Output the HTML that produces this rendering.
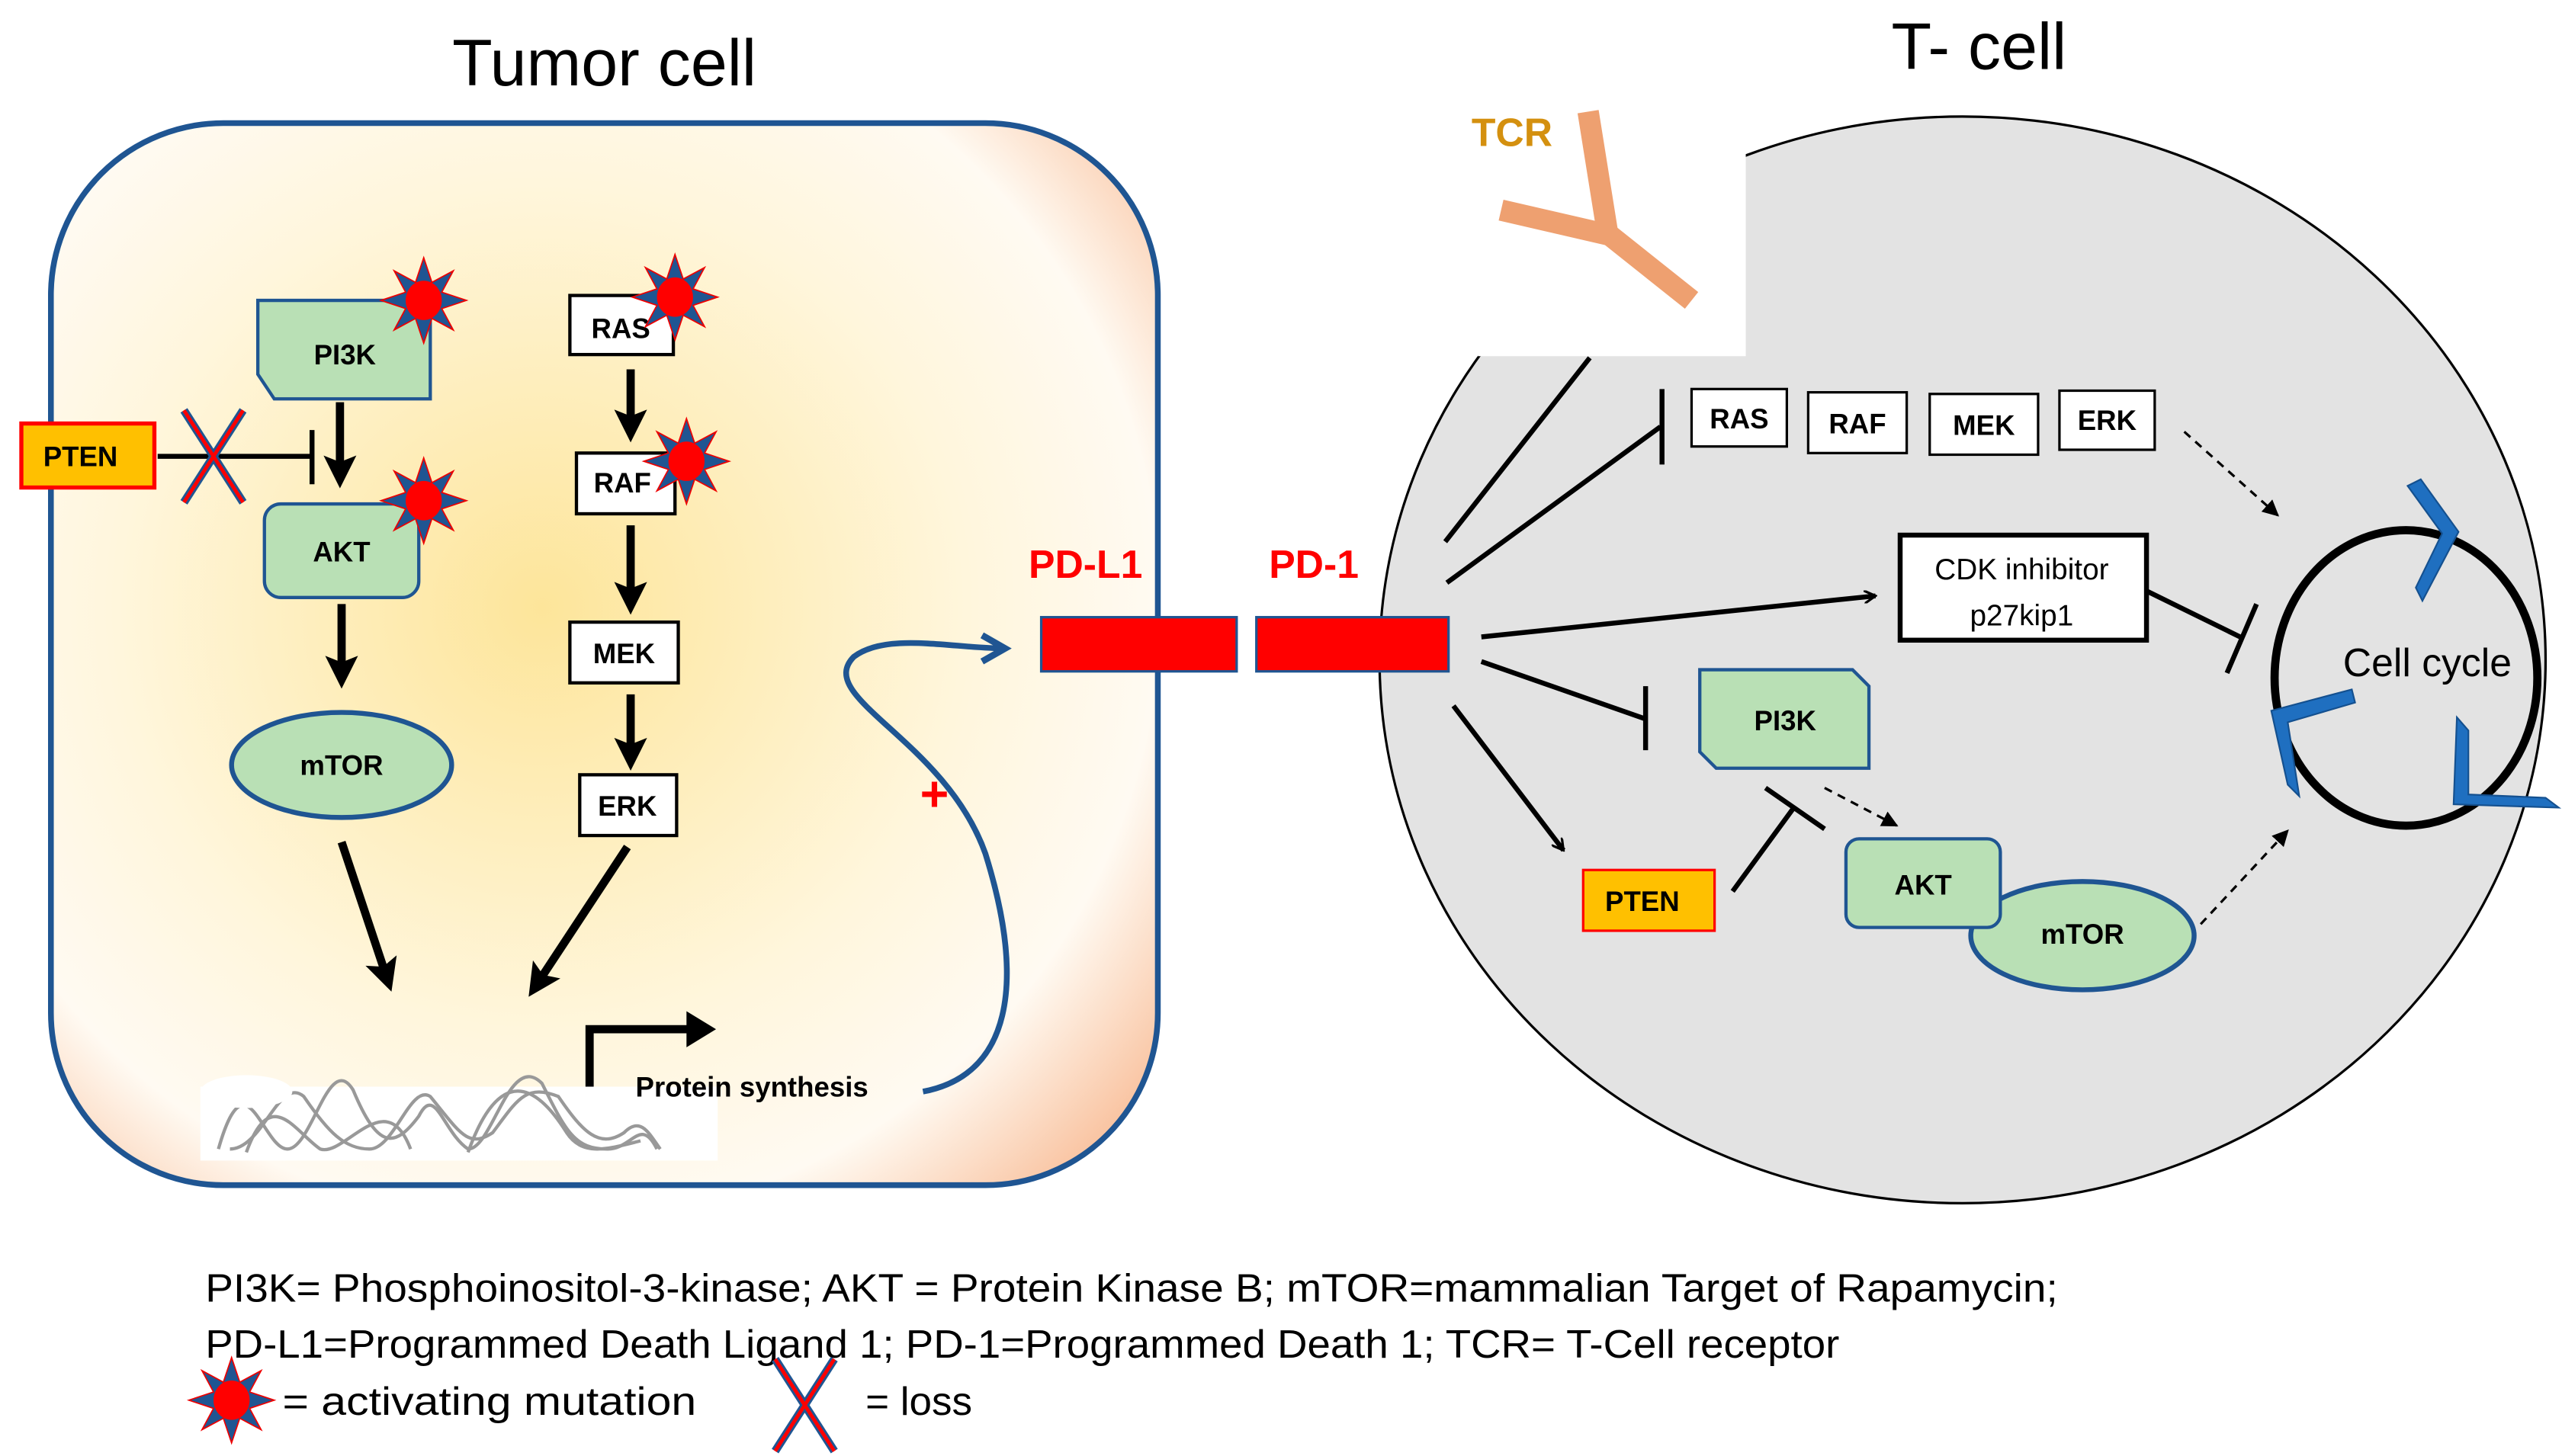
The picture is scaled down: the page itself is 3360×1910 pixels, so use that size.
<!DOCTYPE html>
<html><head><meta charset="utf-8"><style>html,body{margin:0;padding:0;background:#fff}svg{display:block}text{font-family:"Liberation Sans",sans-serif}</style></head>
<body>
<svg width="3360" height="1910" viewBox="0 0 1560 887" preserveAspectRatio="none" xmlns="http://www.w3.org/2000/svg">
<defs>
<radialGradient id="g" cx="330" cy="370" r="470" gradientUnits="userSpaceOnUse">
<stop offset="0" stop-color="#fde59a"/><stop offset="0.55" stop-color="#fff6dc"/><stop offset="0.8" stop-color="#fffaf2"/><stop offset="1" stop-color="#f9c4a2"/></radialGradient>
<marker id="ah" markerWidth="4" markerHeight="4" refX="2.5" refY="2" orient="auto" markerUnits="strokeWidth"><path d="M0,0 L4,2 L0,4 L0.8,2z" fill="#000"/></marker>
<marker id="ao" markerWidth="8" markerHeight="8" refX="7" refY="4" orient="auto" markerUnits="userSpaceOnUse" viewBox="0 0 8 8"><path d="M0,0 L7,4 L0,8" fill="none" stroke="#000" stroke-width="1.5"/></marker>
<marker id="ad" markerWidth="10" markerHeight="10" refX="9" refY="5" orient="auto" markerUnits="userSpaceOnUse"><path d="M0,0 L10,5 L0,10z" fill="#000"/></marker>
<marker id="ab" markerWidth="20" markerHeight="20" refX="16" refY="10" orient="auto" markerUnits="userSpaceOnUse"><path d="M2,2 L16,10 L2,18" fill="none" stroke="#1f5592" stroke-width="4"/></marker>
<g id="star"><polygon points="0,-26 5,-11 18,-18 11,-5 26,0 11,5 18,18 5,11 0,26 -5,11 -18,18 -11,5 -26,0 -11,-5 -18,-18 -5,-11" fill="#1f5592" stroke="#e00" stroke-width="0.8"/><ellipse cx="0" cy="0" rx="11" ry="12" fill="#f00"/></g>
<g id="x"><line x1="-18" y1="-28" x2="18" y2="28" stroke="#1f5592" stroke-width="5"/><line x1="18" y1="-28" x2="-18" y2="28" stroke="#1f5592" stroke-width="5"/><line x1="-18" y1="-28" x2="18" y2="28" stroke="#f00" stroke-width="2.2"/><line x1="18" y1="-28" x2="-18" y2="28" stroke="#f00" stroke-width="2.2"/></g>
</defs>

<!-- Titles -->
<text x="368" y="52" font-size="40" text-anchor="middle">Tumor cell</text>
<text x="1205" y="42" font-size="40" text-anchor="middle">T- cell</text>

<!-- Tumor cell -->
<rect x="31" y="75" width="674" height="647" rx="105" fill="url(#g)" stroke="#1f5592" stroke-width="3.5"/>

<!-- PI3K -->
<path d="M157,183 H262 V243 H167 L157,228 Z" fill="#b9e0b5" stroke="#1f5592" stroke-width="2"/>
<text x="210" y="222" font-size="17" font-weight="bold" text-anchor="middle">PI3K</text>
<use href="#star" x="258" y="183"/>
<!-- PTEN -->
<rect x="13" y="258" width="81" height="39" fill="#ffc000" stroke="#f00" stroke-width="2.5"/>
<text x="49" y="284" font-size="17" font-weight="bold" text-anchor="middle">PTEN</text>
<line x1="96" y1="278" x2="190" y2="278" stroke="#000" stroke-width="3"/>
<line x1="190" y1="262" x2="190" y2="295" stroke="#000" stroke-width="3"/>
<use href="#x" x="130" y="278"/>
<line x1="207" y1="245" x2="207" y2="290" stroke="#000" stroke-width="5" marker-end="url(#ah)"/>
<!-- AKT -->
<rect x="161" y="307" width="94" height="57" rx="10" fill="#b9e0b5" stroke="#1f5592" stroke-width="2"/>
<text x="208" y="342" font-size="17" font-weight="bold" text-anchor="middle">AKT</text>
<use href="#star" x="258" y="305"/>
<line x1="208" y1="368" x2="208" y2="412" stroke="#000" stroke-width="5" marker-end="url(#ah)"/>
<ellipse cx="208" cy="466" rx="67" ry="32" fill="#b9e0b5" stroke="#1f5592" stroke-width="3"/>
<text x="208" y="472" font-size="17" font-weight="bold" text-anchor="middle">mTOR</text>
<line x1="208" y1="513" x2="236" y2="597" stroke="#000" stroke-width="5" marker-end="url(#ah)"/>

<!-- RAS chain -->
<rect x="347" y="180" width="63" height="36" fill="#fff" stroke="#000" stroke-width="2"/>
<text x="378" y="206" font-size="17" font-weight="bold" text-anchor="middle">RAS</text>
<use href="#star" x="411" y="181"/>
<line x1="384" y1="225" x2="384" y2="262" stroke="#000" stroke-width="5" marker-end="url(#ah)"/>
<rect x="351" y="276" width="60" height="37" fill="#fff" stroke="#000" stroke-width="2"/>
<text x="379" y="300" font-size="17" font-weight="bold" text-anchor="middle">RAF</text>
<use href="#star" x="418" y="281"/>
<line x1="384" y1="320" x2="384" y2="367" stroke="#000" stroke-width="5" marker-end="url(#ah)"/>
<rect x="347" y="379" width="66" height="37" fill="#fff" stroke="#000" stroke-width="2"/>
<text x="380" y="404" font-size="17" font-weight="bold" text-anchor="middle">MEK</text>
<line x1="384" y1="423" x2="384" y2="462" stroke="#000" stroke-width="5" marker-end="url(#ah)"/>
<rect x="353" y="472" width="59" height="37" fill="#fff" stroke="#000" stroke-width="2"/>
<text x="382" y="497" font-size="17" font-weight="bold" text-anchor="middle">ERK</text>
<line x1="382" y1="516" x2="326" y2="601" stroke="#000" stroke-width="5" marker-end="url(#ah)"/>

<!-- DNA -->
<rect x="122" y="662" width="315" height="45" fill="#fff"/>
<g fill="none" stroke="#999" stroke-width="2">
<path d="M133,700 C150,640 160,700 175,700 C190,700 200,640 215,664 C230,700 240,700 255,680 C265,660 270,690 285,700 C300,700 310,640 330,660 C345,690 350,700 370,700 C385,700 390,680 400,700"/>
<path d="M140,700 C160,700 170,655 185,668 C200,690 210,700 225,700 C240,700 250,660 262,668 C280,690 285,700 300,690 C315,670 320,660 340,668 C355,690 365,700 380,690 C390,680 395,690 402,700"/>
<path d="M150,702 C165,660 180,690 195,700 C210,705 235,660 250,700 M285,702 C300,660 320,650 345,690 C355,705 370,700 390,695"/>
</g>
<ellipse cx="150" cy="665" rx="28" ry="10" fill="#fff"/>
<!-- bent arrow -->
<path d="M359,662 V627 H420" fill="none" stroke="#000" stroke-width="5"/>
<path d="M418,616 L436,627 L418,638 Z" fill="#000"/>
<text x="387" y="668" font-size="17" font-weight="bold">Protein synthesis</text>
<!-- blue curve -->
<path d="M562,665 C615,655 625,600 600,520 C575,450 495,425 520,400 C540,385 580,395 612,395" fill="none" stroke="#1f5592" stroke-width="3.5" marker-end="url(#ab)"/>
<text x="569" y="494" font-size="30" font-weight="bold" fill="#f00" text-anchor="middle">+</text>

<!-- PD-L1 / PD-1 -->
<text x="661" y="352" font-size="24" font-weight="bold" fill="#f00" text-anchor="middle">PD-L1</text>
<rect x="634" y="376" width="119" height="33" fill="#f00" stroke="#1f5592" stroke-width="1.5"/>
<text x="800" y="352" font-size="24" font-weight="bold" fill="#f00" text-anchor="middle">PD-1</text>

<!-- T-cell -->
<ellipse cx="1195" cy="402" rx="355" ry="331" fill="#e3e3e3" stroke="#000" stroke-width="1.5"/>
<rect x="900" y="55" width="163" height="162" fill="#fff"/>
<rect x="765" y="376" width="117" height="33" fill="#f00" stroke="#1f5592" stroke-width="1.5"/>
<text x="896" y="89" font-size="24" font-weight="bold" fill="#d4900f">TCR</text>
<g stroke="#eea070" stroke-width="13" stroke-linecap="butt" fill="none">
<path d="M967,68 L979,143"/><path d="M914,128 L979,143"/><path d="M976,140 L1030,183"/></g>

<line x1="880" y1="330" x2="968" y2="218" stroke="#000" stroke-width="3"/>
<line x1="881" y1="355" x2="1011" y2="260" stroke="#000" stroke-width="3"/>
<line x1="1012" y1="237" x2="1012" y2="283" stroke="#000" stroke-width="3"/>
<line x1="902" y1="388" x2="1142" y2="363" stroke="#000" stroke-width="3" marker-end="url(#ao)"/>
<line x1="902" y1="403" x2="1002" y2="438" stroke="#000" stroke-width="3"/>
<line x1="1002" y1="418" x2="1002" y2="457" stroke="#000" stroke-width="3"/>
<line x1="885" y1="430" x2="952" y2="518" stroke="#000" stroke-width="3" marker-end="url(#ao)"/>

<rect x="1030" y="237" width="58" height="35" fill="#fff" stroke="#000" stroke-width="1.5"/>
<text x="1059" y="261" font-size="17" font-weight="bold" text-anchor="middle">RAS</text>
<rect x="1101" y="239" width="60" height="37" fill="#fff" stroke="#000" stroke-width="1.5"/>
<text x="1131" y="264" font-size="17" font-weight="bold" text-anchor="middle">RAF</text>
<rect x="1175" y="240" width="66" height="37" fill="#fff" stroke="#000" stroke-width="1.5"/>
<text x="1208" y="265" font-size="17" font-weight="bold" text-anchor="middle">MEK</text>
<rect x="1254" y="238" width="58" height="36" fill="#fff" stroke="#000" stroke-width="1.5"/>
<text x="1283" y="262" font-size="17" font-weight="bold" text-anchor="middle">ERK</text>
<line x1="1330" y1="263" x2="1387" y2="314" stroke="#000" stroke-width="1.5" stroke-dasharray="5,4" marker-end="url(#ad)"/>

<rect x="1157" y="326" width="150" height="64" fill="#fff" stroke="#000" stroke-width="3"/>
<text x="1231" y="353" font-size="18" text-anchor="middle">CDK inhibitor</text>
<text x="1231" y="381" font-size="18" text-anchor="middle">p27kip1</text>
<line x1="1307" y1="360" x2="1364" y2="388" stroke="#000" stroke-width="3"/>
<line x1="1374" y1="368" x2="1356" y2="410" stroke="#000" stroke-width="3"/>

<path d="M1035,408 H1128 L1138,418 V468 H1045 L1035,458 Z" fill="#b9e0b5" stroke="#1f5592" stroke-width="2"/>
<text x="1087" y="445" font-size="17" font-weight="bold" text-anchor="middle">PI3K</text>
<line x1="1111" y1="480" x2="1155" y2="503" stroke="#000" stroke-width="1.5" stroke-dasharray="5,4" marker-end="url(#ad)"/>

<rect x="964" y="530" width="80" height="37" fill="#ffc000" stroke="#f00" stroke-width="1.5"/>
<text x="1000" y="555" font-size="17" font-weight="bold" text-anchor="middle">PTEN</text>
<line x1="1055" y1="543" x2="1093" y2="491" stroke="#000" stroke-width="3"/>
<line x1="1075" y1="480" x2="1111" y2="505" stroke="#000" stroke-width="3"/>

<ellipse cx="1268" cy="570" rx="68" ry="33" fill="#b9e0b5" stroke="#1f5592" stroke-width="3"/>
<text x="1268" y="575" font-size="17" font-weight="bold" text-anchor="middle">mTOR</text>
<rect x="1124" y="511" width="94" height="54" rx="8" fill="#b9e0b5" stroke="#1f5592" stroke-width="2"/>
<text x="1171" y="545" font-size="17" font-weight="bold" text-anchor="middle">AKT</text>
<line x1="1340" y1="563" x2="1393" y2="506" stroke="#000" stroke-width="1.5" stroke-dasharray="5,4" marker-end="url(#ad)"/>

<ellipse cx="1465" cy="413" rx="80" ry="90" fill="none" stroke="#000" stroke-width="5"/>
<text x="1478" y="412" font-size="24" text-anchor="middle">Cell cycle</text>
<g fill="#1f6fc0" stroke="#14508f" stroke-width="1">
<polygon points="1466,296 1474,292 1497,324 1475,366 1471,358 1487,325"/>
<polygon points="1432,420 1434,428 1393,440 1400,485 1393,478 1383,433"/>
<polygon points="1496,437 1503,445 1503,484 1550,486 1558,492 1494,490"/>
</g>

<!-- Legend -->
<text x="125" y="793" font-size="24" textLength="1128" lengthAdjust="spacingAndGlyphs">PI3K= Phosphoinositol-3-kinase; AKT = Protein Kinase B; mTOR=mammalian Target of Rapamycin;</text>
<text x="125" y="827" font-size="24" textLength="995" lengthAdjust="spacingAndGlyphs">PD-L1=Programmed Death Ligand 1; PD-1=Programmed Death 1; TCR= T-Cell receptor</text>
<use href="#star" x="141" y="853"/>
<text x="172" y="862" font-size="24" textLength="252" lengthAdjust="spacingAndGlyphs">= activating mutation</text>
<use href="#x" x="490" y="856"/>
<text x="527" y="862" font-size="24" textLength="65" lengthAdjust="spacingAndGlyphs">= loss</text>
</svg>
</body></html>
